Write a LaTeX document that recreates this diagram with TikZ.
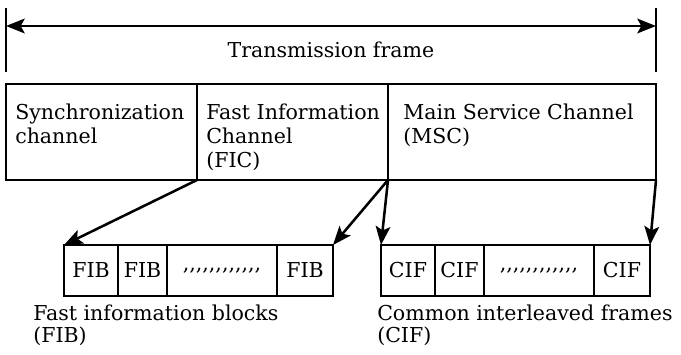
\documentclass[tikz,border=0pt]{standalone}
\usepackage{fontspec}
\setmainfont{DejaVu Serif}[Ligatures=TeXOff]
\usepackage{tikz}
\usetikzlibrary{arrows.meta, positioning}

\begin{document}
\begin{tikzpicture}[x=0.75pt, y=-0.75pt, font=\fontsize{15.4}{18}\selectfont]
    % Node Styles
    \tikzstyle{cell} = [rectangle, draw, line width=1.9pt, inner sep=0pt, outer sep=0pt, minimum height=72pt]
    \tikzstyle{slot} = [rectangle, draw, line width=1.9pt, inner sep=0pt, outer sep=0pt, minimum height=38.25pt]
    \tikzstyle{celltext} = [anchor=north west, align=left, inner sep=0pt]
    \tikzstyle{caption} = [anchor=north west, align=left, inner sep=0pt, font=\fontsize{15.4}{16.5}\selectfont]
    \tikzstyle{line} = [draw, -{Stealth[length=14pt, width=11pt, inset=3pt]}, line width=1.9pt]
    \useasboundingbox (0,0) rectangle (681,354);

    % Transmission frame
    \node [cell, minimum width=143.25pt, anchor=north west] (sync) at (6,84) {};
    \node [cell, minimum width=143.25pt, right=0pt of sync] (fic) {};
    \node [cell, minimum width=201pt, right=0pt of fic] (msc) {};
    \node [celltext] (synctext) at (15,104) {Synchronization\\channel};
    \node [celltext] (fictext) at (206,104) {Fast Information\\Channel\\(FIC)};
    \node [celltext] (msctext) at (403,104) {Main Service Channel\\(MSC)};

    % Dimension line
    \coordinate (ltop) at (6,8);
    \coordinate (lbot) at (6,72);
    \coordinate (rtop) at (656,8);
    \coordinate (rbot) at (656,72);
    \coordinate (larr) at (6,26);
    \coordinate (rarr) at (656,26);
    \draw [line width=1.9pt] (ltop) -- (lbot);
    \draw [line width=1.9pt] (rtop) -- (rbot);
    \draw [line, {Stealth[length=14pt, width=11pt, inset=3pt]}-{Stealth[length=14pt, width=11pt, inset=3pt]}] (larr) -- (rarr);
    \node (title) at (331,50) {Transmission frame};

    % Fast information blocks
    \node [slot, minimum width=40.5pt, anchor=north west] (fib1) at (64,245) {FIB};
    \node [slot, minimum width=36.75pt, right=0pt of fib1] (fib2) {FIB};
    \node [slot, minimum width=82.5pt, right=0pt of fib2] (fibdots) {,,,,,,,,,,,,};
    \node [slot, minimum width=42pt, right=0pt of fibdots] (fib3) {FIB};
    \node [caption] (fibcap) at (33,305) {Fast information blocks\\(FIB)};

    % Common interleaved frames
    \node [slot, minimum width=40.5pt, anchor=north west] (cif1) at (381,245) {CIF};
    \node [slot, minimum width=36.75pt, right=0pt of cif1] (cif2) {CIF};
    \node [slot, minimum width=82.5pt, right=0pt of cif2] (cifdots) {,,,,,,,,,,,,};
    \node [slot, minimum width=42pt, right=0pt of cifdots] (cif3) {CIF};
    \node [caption] (cifcap) at (377,305) {Common interleaved frames\\(CIF)};

    % Paths
    \path [line] (sync.south east) -- (fib1.north west);
    \path [line] (fic.south east) -- (fib3.north east);
    \path [line] (fic.south east) -- (cif1.north west);
    \path [line] (msc.south east) -- (cif3.north east);
\end{tikzpicture}
\end{document}
